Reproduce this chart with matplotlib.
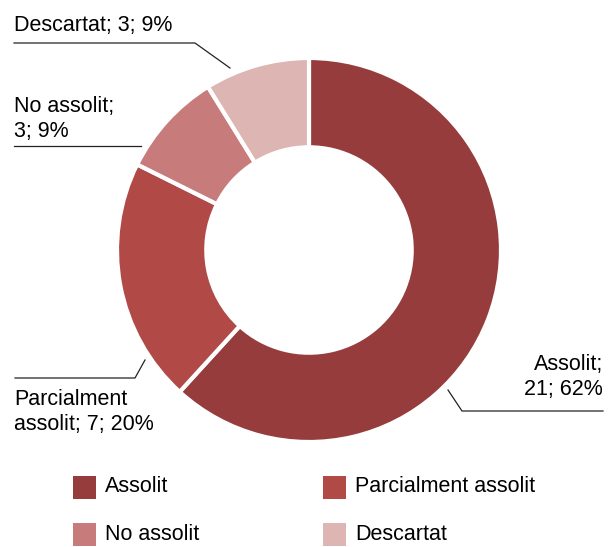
import matplotlib
matplotlib.use("Agg")
import matplotlib.pyplot as plt
from matplotlib.patches import Rectangle

categories = ["Assolit", "Parcialment assolit", "No assolit", "Descartat"]
values = [21, 7, 3, 3]
percents = [62, 20, 9, 9]
colors = ["#963C3C", "#B14A47", "#C77B7A", "#DDB5B3"]
label_texts = ["Assolit;\n{v}; {p}%", "Parcialment\nassolit; {v}; {p}%",
               "No assolit;\n{v}; {p}%", "Descartat; {v}; {p}%"]

plt.rcParams['font.family'] = ['Liberation Sans', 'DejaVu Sans']
W, H = 611, 547
fig = plt.figure(figsize=(W / 100, H / 100), dpi=100)
ax = fig.add_axes([0, 0, 1, 1])

def Y(y):
    return H - y

cx, cy, R = 309, 250, 192
ax.pie(values, colors=colors, startangle=90, counterclock=False,
       center=(cx, Y(cy)), radius=R, frame=True,
       wedgeprops=dict(width=R * 0.465, edgecolor='white', linewidth=3))
ax.set_xlim(0, W)
ax.set_ylim(0, H)
ax.axis('off')

fs = 15.5
lc = '#222222'
lw = 0.9
labels = [t.format(v=v, p=p) for t, v, p in zip(label_texts, values, percents)]

# Assolit
ax.text(603, Y(377), labels[0], ha='right', va='center', fontsize=fs, linespacing=1.25)
ax.plot([603, 462, 448], [Y(411), Y(411), Y(390)], color=lc, lw=lw)
# Parcialment assolit
ax.text(14, Y(412), labels[1], ha='left', va='center', fontsize=fs, linespacing=1.25)
ax.plot([15, 135, 145], [Y(378), Y(378), Y(360)], color=lc, lw=lw)
# No assolit
ax.text(14, Y(119), labels[2], ha='left', va='center', fontsize=fs, linespacing=1.25)
ax.plot([14, 141], [Y(146), Y(146)], color=lc, lw=lw)
# Descartat
ax.text(14, Y(26), labels[3], ha='left', va='center', fontsize=fs)
ax.plot([14, 195, 230], [Y(43), Y(43), Y(68)], color=lc, lw=lw)

# Legend
leg_pos = [(73, 487), (323, 487), (73, 534), (323, 534)]
for (lx, ly), c, name in zip(leg_pos, colors, categories):
    ax.add_patch(Rectangle((lx, Y(ly) - 11.5), 23, 23, facecolor=c, edgecolor='none'))
    ax.text(lx + 32, Y(ly), name, ha='left', va='center', fontsize=fs)

fig.savefig("out.png", dpi=100)
